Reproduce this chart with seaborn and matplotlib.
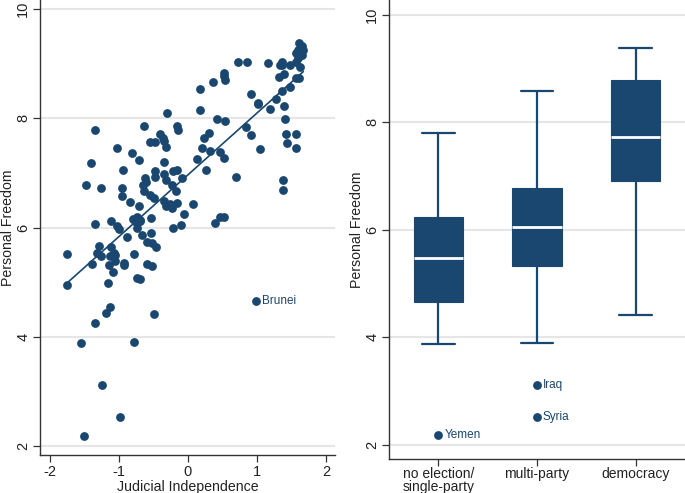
import numpy as np
import pandas as pd
import matplotlib
matplotlib.use("Agg")
import matplotlib.pyplot as plt
import seaborn as sns

# =========================================
# DATA
# =========================================

judicial = [
    1.61, 1.65, 1.60, 1.67, 1.56, 1.65, 1.60, 1.56, 1.62, 1.61, 1.56,
    0.72, 0.86, 1.16, 1.37, 1.37, 1.33, 1.48,
    0.52, 0.53, 0.54, 0.18, 0.36,
    0.92, 1.02, 1.02, 1.28, 1.36, 1.48, 1.32, 1.39,
    0.17, -0.30, 1.19, 1.39,
    0.42, 0.54, 0.84, 0.92, 1.40,
    -1.34, -0.63, -0.16, -0.14,
    0.30, 0.24, 0.20, 0.32, 0.47, 0.52, 1.04, 1.42, 1.44, 1.56, 1.56,
    -1.02, -0.81, -0.71, -0.55, -0.48, -0.40, -0.36, -0.35, -0.32,
    -1.40, -0.94, -0.35, 0.13, 0.27, 0.69, 1.38, 1.38,
    -1.47, -1.25, -0.95, -0.84, -0.71, -0.73, -0.69, -0.64, -0.62, -0.61,
    -0.65, -0.47, -0.47, -0.49, -0.55, -0.34, -0.31, -0.21, -0.15, -0.09,
    -0.23, -0.17, -0.16, -0.26, -0.31, -0.34, -0.23, 0.07, -0.06, -0.22,
    -0.10, 0.39, 0.47, 0.52, -0.95,
    -1.34, -1.11, -1.02, -0.99, -0.79, -0.77, -0.74, -0.69, -0.73, -0.54,
    -0.66, -0.54, -0.88, -0.59, -0.52, -1.28, -1.11, -0.46,
    -1.75, -1.31, -1.26, -1.39, -1.07, -1.05, -1.12, -1.14, -1.06, -0.93,
    -0.92, -0.78, -1.09, -1.16, -1.75, -0.59, -0.52, -0.73, -0.69,
    -1.12, -1.19, -1.34, -1.55, -0.78, -0.49, -1.24, -0.98, -1.51,
    0.98,
]

freedom = [
    9.39, 9.32, 9.26, 9.26, 9.19, 9.16, 9.10, 9.04, 8.95, 8.74, 8.74,
    9.03, 9.04, 9.01, 9.04, 8.98, 8.97, 8.98,
    8.84, 8.77, 8.71, 8.53, 8.66,
    8.45, 8.29, 8.26, 8.35, 8.51, 8.57, 8.75, 8.82,
    8.16, 8.10, 8.17, 8.22,
    7.99, 7.95, 7.85, 7.70, 7.99,
    7.79, 7.86, 7.86, 7.79,
    7.73, 7.64, 7.45, 7.41, 7.39, 7.27, 7.44, 7.72, 7.55, 7.71, 7.45,
    7.45, 7.37, 7.24, 7.56, 7.56, 7.71, 7.64, 7.58, 7.48,
    7.18, 7.06, 7.20, 7.25, 7.06, 6.92, 6.87, 6.69,
    6.78, 6.72, 6.58, 6.47, 6.39, 6.20, 6.14, 6.66, 6.90, 6.84,
    6.78, 7.03, 6.92, 6.54, 6.60, 6.98, 6.87, 7.04, 7.05, 6.90,
    6.78, 6.66, 6.45, 6.43, 6.39, 6.48, 6.36, 6.43, 6.25, 6.00,
    6.04, 6.09, 6.19, 6.19, 6.72,
    6.06, 6.11, 6.02, 5.97, 6.15, 6.12, 6.08, 6.12, 5.99, 6.17,
    5.87, 5.90, 5.82, 5.73, 5.71, 5.67, 5.65, 5.65,
    5.52, 5.53, 5.47, 5.34, 5.53, 5.50, 5.47, 5.31, 5.38, 5.35,
    5.32, 5.51, 5.18, 4.99, 4.95, 5.33, 5.29, 5.07, 5.06,
    4.54, 4.44, 4.25, 3.88, 3.90, 4.42, 3.12, 2.52, 2.17,
    4.66,
]

scatter_label = "Brunei"
scatter_label_xy = (0.98, 4.66)

regimes = ["no election/\nsingle-party", "multi-party", "democracy"]
whisker_low = [3.88, 3.89, 4.41]
quart1 = [4.66, 5.33, 6.90]
median = [5.47, 6.06, 7.73]
quart3 = [6.24, 6.77, 8.79]
whisker_high = [7.80, 8.59, 9.39]

outlier_names = ["Yemen", "Iraq", "Syria"]
outlier_group = [0, 1, 1]
outlier_values = [2.17, 3.11, 2.51]

df = pd.DataFrame({"judicial": judicial, "freedom": freedom})

# =========================================
# STYLE
# =========================================

sns.set_theme(style="white")
plt.rcParams["font.family"] = ["Liberation Sans", "DejaVu Sans"]
plt.rcParams["axes.unicode_minus"] = False

navy = "#1a476f"
grid_col = "#e6e6e6"
axis_col = "#333333"
text_col = "#222222"

fig = plt.figure(figsize=(6.85, 4.93), dpi=100)
ax1 = fig.add_axes([40 / 685, 1 - 455 / 493, 295 / 685, 455 / 493])
ax2 = fig.add_axes([389 / 685, 1 - 459 / 493, 296 / 685, 459 / 493])


def style_axis(ax):
    for side in ["top", "right"]:
        ax.spines[side].set_visible(False)
    for side in ["left", "bottom"]:
        ax.spines[side].set_color(axis_col)
        ax.spines[side].set_linewidth(1.0)
    ax.tick_params(axis="both", direction="out", length=5, width=0.9,
                   color=axis_col, labelsize=10.5, labelcolor=text_col,
                   left=True, bottom=True, pad=2)
    ax.set_yticks([2, 4, 6, 8, 10])
    for lab in ax.get_yticklabels():
        lab.set_rotation(90)
        lab.set_va("center")
    ax.yaxis.grid(True, color=grid_col, linewidth=1.5)
    ax.xaxis.grid(False)
    ax.set_axisbelow(True)


# =========================================
# LEFT: SCATTER WITH FIT
# =========================================

sns.regplot(
    data=df, x="judicial", y="freedom", ax=ax1, ci=None,
    scatter_kws={"s": 40, "color": navy, "alpha": 1, "linewidths": 0},
    line_kws={"color": navy, "linewidth": 1.2},
)
ax1.text(scatter_label_xy[0] + 0.09, scatter_label_xy[1], scatter_label,
         color=navy, fontsize=8.5, va="center")
ax1.set_xlim(-2.14, 2.13)
ax1.set_ylim(1.83, 10.17)
ax1.set_xticks([-2, -1, 0, 1, 2])
style_axis(ax1)
ax1.set_xlabel("Judicial Independence", fontsize=10.2, color=text_col, labelpad=1)
ax1.set_ylabel("Personal Freedom", fontsize=10.2, color=text_col, labelpad=1)

# =========================================
# RIGHT: BOX PLOT BY REGIME
# =========================================

stats = []
for i, name in enumerate(regimes):
    stats.append({
        "label": name,
        "whislo": whisker_low[i],
        "q1": quart1[i],
        "med": median[i],
        "q3": quart3[i],
        "whishi": whisker_high[i],
        "fliers": [],
    })

ax2.bxp(
    stats, positions=range(len(regimes)), widths=0.5, patch_artist=True,
    showfliers=False,
    boxprops={"facecolor": navy, "edgecolor": navy, "linewidth": 0.8},
    medianprops={"color": "white", "linewidth": 2},
    whiskerprops={"color": navy, "linewidth": 1.6},
    capprops={"color": navy, "linewidth": 1.6},
    capwidths=0.33,
)

sns.scatterplot(x=outlier_group, y=outlier_values, ax=ax2, s=40,
                color=navy, linewidth=0, legend=False)
for g, v, name in zip(outlier_group, outlier_values, outlier_names):
    ax2.text(g + 0.06, v, name, color=navy, fontsize=8.5, va="center")

ax2.set_xlim(-0.5, 2.5)
ax2.set_ylim(1.73, 10.28)
ax2.set_xticks(range(len(regimes)))
style_axis(ax2)
ax2.set_xticklabels(regimes, linespacing=0.9, fontsize=10)
ax2.tick_params(axis="x", pad=1)
ax2.set_xlabel("")
ax2.set_ylabel("Personal Freedom", fontsize=10.2, color=text_col, labelpad=1)

plt.savefig("out.png", dpi=100)
